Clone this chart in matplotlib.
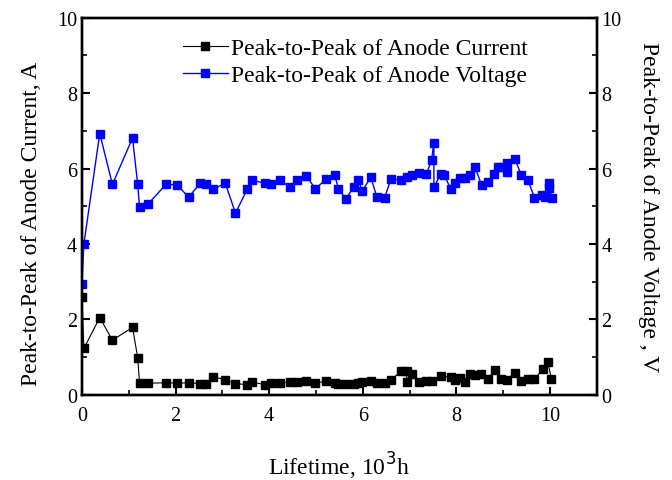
import matplotlib
matplotlib.use("Agg")
import matplotlib.pyplot as plt
from matplotlib.ticker import MultipleLocator

# anode current peak-to-peak (A)
cur_x = [0.0, 0.04, 0.38, 0.65, 1.08, 1.19, 1.23, 1.42, 1.80, 2.04, 2.28, 2.53, 2.64,
         2.81, 3.06, 3.28, 3.53, 3.63, 3.91, 4.04, 4.23, 4.44, 4.60, 4.79, 4.99,
         5.22, 5.40, 5.48, 5.64, 5.81, 5.90, 5.99, 6.17, 6.30, 6.47, 6.60, 6.82,
         6.94, 6.94, 7.06, 7.21, 7.36, 7.47, 7.67, 7.88, 7.97, 8.08, 8.18, 8.29,
         8.40, 8.52, 8.67, 8.82, 8.96, 9.09, 9.25, 9.39, 9.53, 9.67, 9.85, 9.96,
         10.03]
cur_y = [2.60, 1.23, 2.05, 1.45, 1.79, 0.99, 0.31, 0.31, 0.32, 0.31, 0.32, 0.30, 0.29,
         0.48, 0.40, 0.30, 0.27, 0.34, 0.27, 0.32, 0.32, 0.34, 0.34, 0.37, 0.32,
         0.36, 0.31, 0.29, 0.28, 0.28, 0.31, 0.35, 0.36, 0.32, 0.32, 0.40, 0.62,
         0.62, 0.34, 0.56, 0.34, 0.36, 0.38, 0.50, 0.47, 0.40, 0.44, 0.35, 0.56,
         0.53, 0.55, 0.43, 0.65, 0.43, 0.40, 0.59, 0.38, 0.42, 0.41, 0.69, 0.87,
         0.41]

# anode voltage peak-to-peak (V)
volt_x = [0.0, 0.04, 0.38, 0.65, 1.08, 1.19, 1.23, 1.42, 1.80, 2.04, 2.28, 2.53, 2.64,
          2.81, 3.06, 3.28, 3.53, 3.63, 3.91, 4.04, 4.23, 4.44, 4.60, 4.79, 4.99,
          5.22, 5.40, 5.48, 5.64, 5.81, 5.90, 5.99, 6.17, 6.30, 6.47, 6.60, 6.82,
          6.94, 7.06, 7.21, 7.36, 7.47, 7.52, 7.52, 7.67, 7.74, 7.88, 7.97, 8.08,
          8.18, 8.29, 8.40, 8.54, 8.67, 8.81, 8.89, 8.96, 9.09, 9.09, 9.25, 9.39,
          9.53, 9.67, 9.83, 9.90, 9.99, 9.99, 10.04]
volt_y = [2.95, 4.00, 6.93, 5.58, 6.81, 5.59, 4.97, 5.07, 5.59, 5.56, 5.24, 5.62, 5.59,
          5.45, 5.62, 4.82, 5.45, 5.70, 5.61, 5.58, 5.71, 5.50, 5.69, 5.80, 5.47,
          5.72, 5.83, 5.46, 5.20, 5.52, 5.70, 5.41, 5.77, 5.26, 5.23, 5.72, 5.70,
          5.79, 5.82, 5.89, 5.85, 6.23, 6.69, 5.50, 5.87, 5.82, 5.47, 5.61, 5.74,
          5.76, 5.83, 6.04, 5.56, 5.64, 5.87, 6.03, 6.05, 5.91, 6.14, 6.25, 5.83,
          5.69, 5.23, 5.31, 5.24, 5.63, 5.49, 5.23]

plt.rcParams["font.family"] = ["Liberation Serif", "DejaVu Serif"]
plt.rcParams["font.size"] = 14.5
label_size = 17

fig = plt.figure(figsize=(6.72, 4.81), dpi=100)
ax1 = fig.add_axes([0.122, 0.177, 0.766, 0.784])
ax2 = ax1.twinx()

l1, = ax1.plot(cur_x, cur_y, "-s", color="black", lw=0.8, ms=5.5,
               label="Peak-to-Peak of Anode Current")
l2, = ax2.plot(volt_x, volt_y, "-s", color="blue", lw=1.0, ms=5.5,
               label="Peak-to-Peak of Anode Voltage")

for ax in (ax1, ax2):
    ax.set_xlim(0, 11)
    ax.set_ylim(0, 10)
    ax.xaxis.set_major_locator(MultipleLocator(2))
    ax.xaxis.set_minor_locator(MultipleLocator(1))
    ax.yaxis.set_major_locator(MultipleLocator(2))
    ax.yaxis.set_minor_locator(MultipleLocator(1))
    ax.tick_params(which="major", direction="in", length=6, width=1.5)
    ax.tick_params(which="minor", direction="in", length=3.5, width=1.2)
    for s in ax.spines.values():
        s.set_linewidth(1.7)

ax1.set_xticks([0, 2, 4, 6, 8, 10])
ax1.tick_params(axis="x", pad=8)
ax1.set_xlabel("Lifetime, 10$^3$h", fontsize=label_size, labelpad=18)
ax1.set_ylabel("Peak-to-Peak of Anode Current, A", fontsize=label_size)
ax1.yaxis.set_label_coords(-0.077, 0.455)
ax2.set_ylabel("Peak-to-Peak of Anode Voltage , V", fontsize=label_size,
               rotation=270, labelpad=27)

ax1.legend(handles=[l1, l2], loc="upper left", bbox_to_anchor=(0.196, 0.947),
           frameon=False, borderpad=0, borderaxespad=0, handlelength=1.9,
           handletextpad=0.15, labelspacing=0.22, fontsize=label_size)

fig.savefig("out.png", dpi=100)
